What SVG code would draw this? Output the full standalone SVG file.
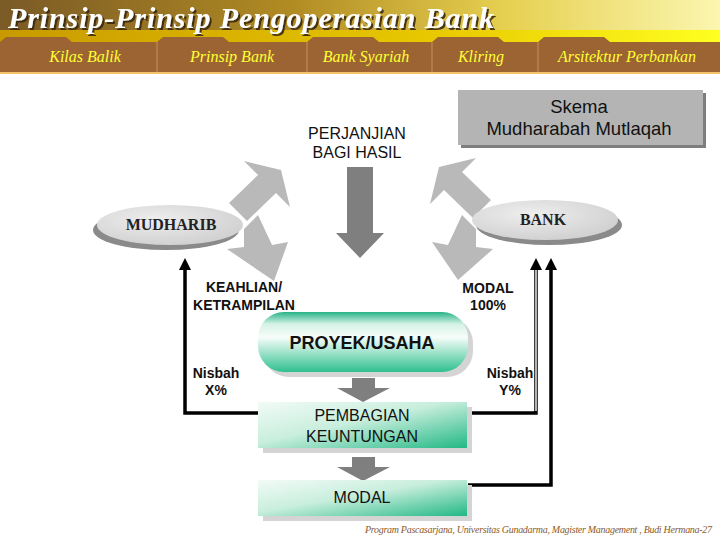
<svg xmlns="http://www.w3.org/2000/svg" width="720" height="540" viewBox="0 0 720 540">
<defs>
<linearGradient id="hdr" x1="0" y1="0" x2="1" y2="0">
<stop offset="0" stop-color="#7A5A26"/><stop offset="0.4" stop-color="#B08A22"/><stop offset="0.7" stop-color="#E6D050"/><stop offset="1" stop-color="#FBF6B0"/>
</linearGradient>
<linearGradient id="hdr2" x1="0" y1="0" x2="1" y2="0">
<stop offset="0" stop-color="#C89A00"/><stop offset="0.6" stop-color="#E8C800"/><stop offset="1" stop-color="#FFFF20"/>
</linearGradient>
<linearGradient id="pill" x1="0" y1="0" x2="0" y2="1">
<stop offset="0" stop-color="#26B285"/><stop offset="0.2" stop-color="#D5F2E6"/><stop offset="0.42" stop-color="#F7FDFA"/><stop offset="1" stop-color="#2EC08E"/>
</linearGradient>
<linearGradient id="boxg" x1="0" y1="0" x2="1" y2="1">
<stop offset="0" stop-color="#F2FBF7"/><stop offset="0.45" stop-color="#C8EEDD"/><stop offset="1" stop-color="#22B885"/>
</linearGradient>
<radialGradient id="ell" cx="0.4" cy="0.35" r="0.7">
<stop offset="0" stop-color="#EEEEEE"/><stop offset="1" stop-color="#CFCFCF"/>
</radialGradient>
<filter id="tshadow" x="-5%" y="-20%" width="110%" height="140%">
<feDropShadow dx="2" dy="2" stdDeviation="0.6" flood-color="#3A2A10" flood-opacity="0.9"/>
</filter>
<marker id="ah" viewBox="0 0 12 12" markerWidth="12" markerHeight="12" refX="0" refY="6" orient="auto" markerUnits="userSpaceOnUse">
<path d="M0,0 L12,6 L0,12 Z" fill="#000"/>
</marker>
<style>
.tab{fill:#9C6433}
.tabt{font-family:"Liberation Serif",serif;font-style:italic;font-size:16px;fill:#FFFF33;text-anchor:middle}
.lbl{font-family:"Liberation Sans",Arial,sans-serif;font-weight:bold;font-size:14px;fill:#111;text-anchor:middle}
.reg{font-family:"Liberation Sans",Arial,sans-serif;font-size:16px;fill:#111;text-anchor:middle}
.sk{font-family:"Liberation Sans",Arial,sans-serif;font-size:18.5px;fill:#111;text-anchor:middle}
.big{font-family:"Liberation Sans",Arial,sans-serif;font-size:16px;fill:#111;text-anchor:middle}
.pro{font-family:"Liberation Sans",Arial,sans-serif;font-weight:bold;font-size:18px;fill:#111;text-anchor:middle}
.ellt{font-family:"Liberation Serif",serif;font-weight:bold;font-size:16px;fill:#222;text-anchor:middle}
.carrow{fill:#B9B9B9}
.darrow{fill:#7F7F7F}
.shadow{fill:#D4D4D4}
.ln{fill:none;stroke:#000;stroke-width:3.5}
</style>
</defs>
<rect width="720" height="540" fill="#FFFFFF"/>
<g id="header">
<rect x="0" y="0" width="720" height="46" fill="url(#hdr)"/>
<rect x="0" y="30" width="720" height="16" fill="url(#hdr2)"/>
<text x="8" y="28" font-family="'Liberation Serif',serif" font-weight="bold" font-style="italic" font-size="30" fill="#FFFFFF" textLength="486" filter="url(#tshadow)">Prinsip-Prinsip Pengoperasian Bank</text>
<path class="tab" d="M0,72 V42 L6,37 H66 L72,42 H157 V72 Z"/>
<path class="tab" d="M157,72 V42 L163,37 H223 L229,42 H307 V72 Z"/>
<path class="tab" d="M307,72 V42 L313,37 H373 L379,42 H432 V72 Z"/>
<path class="tab" d="M432,72 V42 L438,37 H498 L504,42 H538 V72 Z"/>
<path class="tab" d="M538,72 V42 L544,37 H604 L610,42 H720 V72 Z"/>
<g stroke="#C8915A" stroke-width="1">
<line x1="157" y1="42" x2="157" y2="72"/><line x1="307" y1="42" x2="307" y2="72"/><line x1="432" y1="42" x2="432" y2="72"/><line x1="538" y1="42" x2="538" y2="72"/>
</g>
<rect x="0" y="72" width="720" height="2" fill="#F2C46A"/>
<text class="tabt" x="85" y="62">Kilas Balik</text>
<text class="tabt" x="232" y="62">Prinsip Bank</text>
<text class="tabt" x="366" y="62">Bank Syariah</text>
<text class="tabt" x="481" y="62">Kliring</text>
<text class="tabt" x="627" y="62">Arsitektur Perbankan</text>
</g>
<g id="skema">
<rect x="461" y="93" width="245" height="55" fill="#7E7E7E"/>
<rect x="458" y="90" width="245" height="55" fill="#B4B4B4"/>
<text class="sk" x="579" y="113">Skema</text>
<text class="sk" x="579" y="135">Mudharabah Mutlaqah</text>
</g>
<g id="perjanjian">
<text class="reg" x="357" y="139">PERJANJIAN</text>
<text class="reg" x="357" y="158">BAGI HASIL</text>
<polygon class="darrow" points="347,167 373,167 373,233 384,233 360,258 336,233 347,233"/>
</g>
<g id="curved-arrows">
<polygon class="carrow" points="229,203 258,175 244,161 281,170 290,207 276,193 247,221"/>
<polygon class="carrow" points="244,229 258,215 272,245 288,242 274,281 227,249 244,247"/>
<polygon class="carrow" points="491,200 462,172 476,158 439,167 430,204 444,190 473,218"/>
<polygon class="carrow" points="476,229 462,215 448,245 432,242 458,280 493,249 476,247"/>
</g>
<g id="mudharib">
<ellipse cx="166" cy="230" rx="73" ry="20" fill="#8A8A8A"/>
<ellipse cx="170" cy="225" rx="73" ry="20" fill="url(#ell)"/>
<text class="ellt" x="171" y="230">MUDHARIB</text>
</g>
<g id="bank">
<ellipse cx="549" cy="225" rx="73" ry="20" fill="#8A8A8A"/>
<ellipse cx="545" cy="220" rx="73" ry="20" fill="url(#ell)"/>
<text class="ellt" x="543" y="225">BANK</text>
</g>
<g id="connectors">
<polyline class="ln" points="258,413 185,413 185,270" marker-end="url(#ah)"/>
<polyline class="ln" points="467,413 536,413 536,270" stroke-width="4.5" marker-end="url(#ah)"/>
<line x1="536" y1="411" x2="536" y2="270" stroke="#FFFFFF" stroke-width="1.4"/>
<polyline class="ln" points="468,485 551,485 551,270" marker-end="url(#ah)"/>
</g>
<g id="labels">
<text class="lbl" x="244" y="292">KEAHLIAN/</text>
<text class="lbl" x="244" y="310">KETRAMPILAN</text>
<text class="lbl" x="488" y="293">MODAL</text>
<text class="lbl" x="488" y="310">100%</text>
<text class="lbl" x="216" y="378">Nisbah</text>
<text class="lbl" x="216" y="395">X%</text>
<text class="lbl" x="510" y="378">Nisbah</text>
<text class="lbl" x="510" y="395">Y%</text>
</g>
<g id="proyek">
<rect x="263" y="317" width="210" height="60" rx="26" class="shadow"/>
<rect x="258" y="312" width="210" height="60" rx="26" fill="url(#pill)"/>
<text class="pro" x="362" y="349">PROYEK/USAHA</text>
</g>
<polygon class="darrow" points="352,378 375,378 375,388 390,388 363,402 337,388 352,388"/>
<g id="pembagian">
<rect x="263" y="407" width="209" height="46" class="shadow"/>
<rect x="258" y="402" width="209" height="46" fill="url(#boxg)"/>
<text class="big" x="362" y="421">PEMBAGIAN</text>
<text class="big" x="362" y="442">KEUNTUNGAN</text>
</g>
<polygon class="darrow" points="352,457 375,457 375,467 390,467 363,481 337,467 352,467"/>
<g id="modal">
<rect x="263" y="485" width="209" height="36" class="shadow"/>
<rect x="258" y="480" width="209" height="36" fill="url(#boxg)"/>
<text class="big" x="362" y="503">MODAL</text>
</g>
<text x="365" y="533" font-family="'Liberation Serif',serif" font-style="italic" font-size="10" fill="#8B5A2B" textLength="347">Program Pascasarjana, Universitas Gunadarma,  Magister Management ,  Budi Hermana-27</text>
</svg>
